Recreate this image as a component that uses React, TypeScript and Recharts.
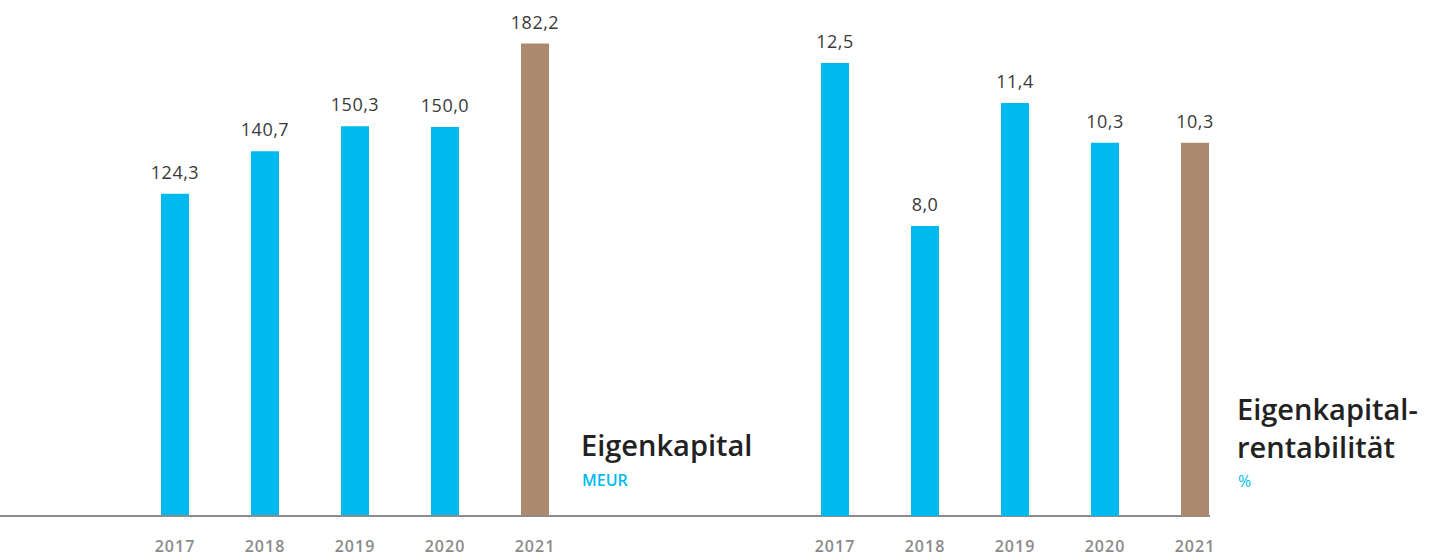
import { BarChart, Bar, XAxis, YAxis, Cell, LabelList } from "recharts";

const years = ["2017", "2018", "2019", "2020", "2021"];
const equity = [124.3, 140.7, 150.3, 150.0, 182.2];
const returnOnEquity = [12.5, 8.0, 11.4, 10.3, 10.3];

const CYAN = "#00B9EF";
const BROWN = "#AD8A6E";
const FONT = "'Open Sans', 'Noto Sans', sans-serif";

const equityData = years.map((y, i) => ({ year: y, value: equity[i] }));
const roeData = years.map((y, i) => ({ year: y, value: returnOnEquity[i] }));

const fmt = (v: number) => v.toFixed(1).replace(".", ",");

const tickStyle = { fontSize: 16, fontWeight: 600, fill: "#8a8a8a", fontFamily: FONT, letterSpacing: 1 };
const labelStyle = { fontSize: 18, fill: "#3a3a3a", fontFamily: FONT, letterSpacing: 0.5 };

export default function App() {
  return (
    <div style={{ position: "absolute", left: 0, top: 0, width: 1429, height: 560, background: "#fff", fontFamily: FONT }}>
      {/* left chart, its axis line runs under both charts */}
      <div style={{ position: "absolute", left: 0, top: 0 }}>
        <BarChart width={1210} height={560} data={equityData} margin={{ top: 0, right: 0, bottom: 0, left: 0 }}>
          <YAxis hide domain={[0, 199]} />
          <XAxis
            dataKey="year"
            height={44}
            tickLine={false}
            tickSize={0}
            tickMargin={25}
            interval={0}
            padding={{ left: 130, right: 630 }}
            axisLine={{ stroke: "#8c8c8c", strokeWidth: 2 }}
            tick={tickStyle}
          />
          <Bar dataKey="value" barSize={28} isAnimationActive={false}>
            {equityData.map((_, i) => (
              <Cell key={i} fill={i === equityData.length - 1 ? BROWN : CYAN} />
            ))}
            <LabelList
              dataKey="value"
              position="top"
              offset={15}
              formatter={(v: any) => fmt(Number(v))}
              style={labelStyle}
            />
          </Bar>
        </BarChart>
      </div>
      <div style={{ position: "absolute", left: 700, top: 0 }}>
        <BarChart width={729} height={560} data={roeData} margin={{ top: 0, right: 0, bottom: 0, left: 0 }}>
          <YAxis hide domain={[0, 14.24]} />
          <XAxis
            dataKey="year"
            height={44}
            tickLine={false}
            tickSize={0}
            tickMargin={25}
            interval={0}
            padding={{ left: 90, right: 189 }}
            axisLine={false}
            tick={tickStyle}
          />
          <Bar dataKey="value" barSize={28} isAnimationActive={false}>
            {roeData.map((_, i) => (
              <Cell key={i} fill={i === roeData.length - 1 ? BROWN : CYAN} />
            ))}
            <LabelList
              dataKey="value"
              position="top"
              offset={15}
              formatter={(v: any) => fmt(Number(v))}
              style={labelStyle}
            />
          </Bar>
        </BarChart>
      </div>
      <div style={{ position: "absolute", left: 581, top: 430, fontSize: 29, fontWeight: 600, lineHeight: 1, color: "#222", whiteSpace: "nowrap" }}>
        Eigenkapital
      </div>
      <div style={{ position: "absolute", left: 582, top: 472, fontSize: 16, fontWeight: 600, lineHeight: 1, color: CYAN }}>
        MEUR
      </div>
      <div style={{ position: "absolute", left: 1237, top: 390, fontSize: 29, fontWeight: 600, lineHeight: "38px", color: "#222", whiteSpace: "nowrap" }}>
        Eigenkapital-
        <br />
        rentabilität
      </div>
      <div style={{ position: "absolute", left: 1238, top: 473, fontSize: 16, fontWeight: 400, lineHeight: 1, color: CYAN }}>
        %
      </div>
    </div>
  );
}
